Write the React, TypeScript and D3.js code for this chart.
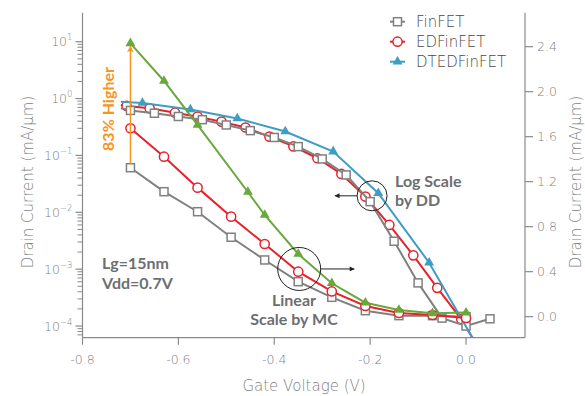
import React, { useEffect, useRef } from 'react'
import * as d3 from 'd3'

// Gate voltage (V), drain current (mA/um), marker flag (1 = draw marker)
// Drift-diffusion results, plotted on the left (log) axis
const finfetDD = [
  [-0.72, 0.676, 0], [-0.7, 0.618, 1], [-0.65, 0.552, 1], [-0.6, 0.484, 1], [-0.55, 0.425, 1],
  [-0.5, 0.343, 1], [-0.45, 0.273, 1], [-0.4, 0.207, 1], [-0.35, 0.143, 1], [-0.3, 0.0868, 1],
  [-0.25, 0.0454, 1], [-0.2, 0.0154, 1], [-0.15, 0.0031, 1], [-0.1, 5.74e-4, 1], [-0.05, 1.38e-4, 1],
  [0, 1.0e-4, 1], [0.05, 1.34e-4, 1]
]
const edfinfetDD = [
  [-0.72, 0.773, 0], [-0.708, 0.741, 1], [-0.66, 0.676, 1], [-0.607, 0.565, 1], [-0.56, 0.481, 1],
  [-0.51, 0.393, 1], [-0.46, 0.31, 1], [-0.41, 0.214, 1], [-0.36, 0.144, 1], [-0.31, 0.0893, 1],
  [-0.26, 0.0473, 1], [-0.21, 0.0189, 1], [-0.16, 0.006, 1], [-0.11, 0.00175, 1], [-0.06, 4.69e-4, 1],
  [-0.01, 1.32e-4, 1], [0.02, 5.0e-5, 0]
]
const dtedfinfetDD = [
  [-0.72, 0.88, 0], [-0.675, 0.838, 1], [-0.575, 0.643, 1], [-0.477, 0.447, 1], [-0.377, 0.264, 1],
  [-0.277, 0.117, 1], [-0.183, 0.0217, 1], [-0.077, 0.0013, 1], [0.02, 5.0e-5, 0]
]

// Monte Carlo results, plotted on the right (linear) axis
const finfetMC = [
  [-0.7, 1.324, 1], [-0.63, 1.111, 1], [-0.56, 0.933, 1], [-0.49, 0.706, 1], [-0.42, 0.504, 1],
  [-0.35, 0.311, 1], [-0.28, 0.172, 1], [-0.21, 0.053, 1], [-0.14, 0.009, 1], [-0.07, 0.009, 1],
  [0, 0.0, 1]
]
const edfinfetMC = [
  [-0.7, 1.675, 1], [-0.63, 1.422, 1], [-0.56, 1.147, 1], [-0.49, 0.889, 1], [-0.42, 0.646, 1],
  [-0.35, 0.4, 1], [-0.28, 0.224, 1], [-0.21, 0.095, 1], [-0.14, 0.033, 1], [-0.07, 0.015, 1],
  [0, -0.012, 1]
]
const dtedfinfetMC = [
  [-0.7, 2.43, 1], [-0.63, 2.095, 1], [-0.56, 1.704, 1], [-0.455, 1.108, 1], [-0.42, 0.904, 1],
  [-0.35, 0.557, 1], [-0.28, 0.297, 1], [-0.21, 0.124, 1], [-0.14, 0.06, 1], [-0.07, 0.03, 1],
  [0, 0.036, 1]
]

const xTicks = [-0.8, -0.6, -0.4, -0.2, 0.0]
const logTickExps = [1, 0, -1, -2, -3, -4]
const linTicks = [0.0, 0.4, 0.8, 1.2, 1.6, 2.0, 2.4]
const legendItems = ['FinFET', 'EDFinFET', 'DTEDFinFET']

const W = 585
const H = 396
const GRAY = '#808080'
const RED = '#e8222b'
const BLUE = '#3d9dc3'
const GREEN = '#69a83a'
const ORANGE = '#f7941d'
const AXIS = '#8a8a8a'
const TICK_TEXT = '#7f7f7f'
const NOTE = '#6d6e71'
const FONT = '"DejaVu Sans", sans-serif'
const BOLD_FONT = 'Lato, "Open Sans", sans-serif'

const App = () => {
  const svgRef = useRef(null)

  useEffect(() => {
    const svg = d3.select(svgRef.current)
    svg.selectAll('*').remove()

    const left = 82.5
    const right = 525
    const top = 12.7
    const bottom = 337.7

    const x = d3.scaleLinear().domain([-0.8, 0.123]).range([left, right])
    const yLog = d3.scaleLog().domain([Math.pow(10, -4.205), Math.pow(10, 1.51)]).range([bottom, top])
    const yLin = d3.scaleLinear().domain([-0.187, 2.702]).range([bottom, top])

    svg.append('defs').append('clipPath').attr('id', 'plot-clip')
      .append('rect')
      .attr('x', left).attr('y', top)
      .attr('width', right - left).attr('height', bottom - top)

    svg.append('defs').html(`
      <marker id="arr-o" viewBox="0 0 10 10" refX="9" refY="5" markerWidth="7" markerHeight="9" orient="auto" markerUnits="userSpaceOnUse">
        <path d="M0,0 L10,5 L0,10 L3,5 Z" fill="${ORANGE}"/>
      </marker>
      <marker id="arr-k" viewBox="0 0 10 10" refX="9" refY="5" markerWidth="6" markerHeight="5" orient="auto" markerUnits="userSpaceOnUse">
        <path d="M0,0 L10,5 L0,10 Z" fill="#222"/>
      </marker>`)

    // Axes lines
    svg.append('line').attr('x1', left).attr('x2', left).attr('y1', top).attr('y2', bottom)
      .attr('stroke', AXIS).attr('stroke-width', 1.2)
    svg.append('line').attr('x1', right).attr('x2', right).attr('y1', top).attr('y2', bottom)
      .attr('stroke', AXIS).attr('stroke-width', 1.2)
    svg.append('line').attr('x1', left).attr('x2', right).attr('y1', bottom).attr('y2', bottom)
      .attr('stroke', AXIS).attr('stroke-width', 1.2)

    // Bottom ticks
    xTicks.forEach(t => {
      svg.append('line').attr('x1', x(t)).attr('x2', x(t)).attr('y1', bottom).attr('y2', bottom + 7)
        .attr('stroke', AXIS).attr('stroke-width', 1.2)
      svg.append('text').attr('x', x(t)).attr('y', 364)
        .attr('text-anchor', 'middle')
        .style('font-family', FONT).style('font-weight', 300).style('font-size', '12.5px').style('fill', TICK_TEXT)
        .text(d3.format('.1f')(t).replace('−', '-'))
    })

    // Left log ticks: majors and minors
    const [lo] = yLog.domain()
    for (let e = -5; e <= 0; e++) {
      for (let k = 2; k <= 9; k++) {
        const v = k * Math.pow(10, e)
        if (v < lo || v > 10) continue
        svg.append('line').attr('x1', left - 5).attr('x2', left).attr('y1', yLog(v)).attr('y2', yLog(v))
          .attr('stroke', AXIS).attr('stroke-width', 1)
      }
    }
    logTickExps.forEach(e => {
      const v = Math.pow(10, e)
      svg.append('line').attr('x1', left - 7).attr('x2', left).attr('y1', yLog(v)).attr('y2', yLog(v))
        .attr('stroke', AXIS).attr('stroke-width', 1.2)
      const t = svg.append('text').attr('x', left - 10).attr('y', yLog(v) + 4.5)
        .attr('text-anchor', 'end')
        .style('font-family', FONT).style('font-weight', 300).style('font-size', '12.5px').style('fill', TICK_TEXT)
      t.append('tspan').text('10')
      t.append('tspan').attr('dy', -6).style('font-size', '8.5px').text(String(e).replace('-', '\u2212'))
    })

    // Right linear ticks
    linTicks.forEach(t => {
      svg.append('line').attr('x1', right).attr('x2', right + 8).attr('y1', yLin(t)).attr('y2', yLin(t))
        .attr('stroke', AXIS).attr('stroke-width', 1.2)
      svg.append('text').attr('x', right + 12).attr('y', yLin(t) + 4.5)
        .style('font-family', FONT).style('font-weight', 300).style('font-size', '12.5px').style('fill', TICK_TEXT)
        .text(d3.format('.1f')(t))
    })

    // Axis titles
    const axisTitle = (transform, txt) => svg.append('text').attr('transform', transform)
      .attr('text-anchor', 'middle')
      .style('font-family', FONT).style('font-weight', 300).style('font-size', '15px').style('fill', TICK_TEXT)
      .text(txt)
    axisTitle('translate(304,391)', 'Gate Voltage (V)')
    axisTitle('translate(33,182) rotate(-90)', 'Drain Current (mA/\u03bcm)')
    axisTitle('translate(581,182) rotate(-90)', 'Drain Current (mA/\u03bcm)')

    // Series
    const series = [
      { data: edfinfetDD, y: yLog, color: RED, shape: 'circle' },
      { data: finfetDD, y: yLog, color: GRAY, shape: 'square' },
      { data: dtedfinfetDD, y: yLog, color: BLUE, shape: 'triangle' },
      { data: finfetMC, y: yLin, color: GRAY, shape: 'square' },
      { data: edfinfetMC, y: yLin, color: RED, shape: 'circle' },
      { data: dtedfinfetMC, y: yLin, color: GREEN, shape: 'triangle' }
    ]

    const drawMarker = (g, shape, color, cx, cy) => {
      if (shape === 'square') {
        g.append('rect').attr('x', cx - 4).attr('y', cy - 4).attr('width', 8).attr('height', 8)
          .attr('fill', 'white').attr('stroke', color).attr('stroke-width', 1.5)
      } else if (shape === 'circle') {
        g.append('circle').attr('cx', cx).attr('cy', cy).attr('r', 4.6)
          .attr('fill', 'white').attr('stroke', color).attr('stroke-width', 1.5)
      } else {
        g.append('path').attr('d', d3.symbol(d3.symbolTriangle, 42)())
          .attr('transform', `translate(${cx},${cy})`)
          .attr('fill', color)
      }
    }

    series.forEach(s => {
      const line = d3.line().x(d => x(d[0])).y(d => s.y(d[1]))
      const g = svg.append('g')
      g.append('path').attr('d', line(s.data))
        .attr('clip-path', 'url(#plot-clip)')
        .attr('fill', 'none').attr('stroke', s.color).attr('stroke-width', 2)
      s.data.filter(d => d[2]).forEach(d => drawMarker(g, s.shape, s.color, x(d[0]), s.y(d[1])))
    })

    // Legend
    const legendColors = [GRAY, RED, BLUE]
    const legendShapes = ['square', 'circle', 'triangle']
    legendItems.forEach((name, i) => {
      const ly = 21.7 + i * 20
      const g = svg.append('g')
      g.append('line').attr('x1', 390).attr('x2', 405).attr('y1', ly).attr('y2', ly)
        .attr('stroke', legendColors[i]).attr('stroke-width', 2)
      drawMarker(g, legendShapes[i], legendColors[i], 397.5, ly)
      g.append('text').attr('x', 416).attr('y', ly + 5.5)
        .style('font-family', FONT).style('font-weight', 300).style('font-size', '15px').style('fill', '#4a4a4a')
        .text(name)
    })

    // "83% Higher" arrow
    svg.append('line')
      .attr('x1', x(-0.7)).attr('x2', x(-0.7))
      .attr('y1', yLin(finfetMC[0][1]) - 4).attr('y2', yLin(dtedfinfetMC[0][1]) + 3)
      .attr('stroke', ORANGE).attr('stroke-width', 1.5)
      .attr('marker-end', 'url(#arr-o)')
    svg.append('text').attr('transform', 'translate(114,109) rotate(-90)').attr('text-anchor', 'middle')
      .style('font-family', BOLD_FONT).style('font-size', '16px').style('font-weight', 'bold').style('fill', ORANGE)
      .text('83% Higher')

    // Device notes
    const note = (tx, ty, txt, anchor = 'start') => svg.append('text')
      .attr('x', tx).attr('y', ty).attr('text-anchor', anchor)
      .style('font-family', BOLD_FONT).style('font-size', '16px').style('font-weight', 'bold').style('fill', NOTE)
      .text(txt)
    note(102, 269, 'Lg=15nm')
    note(102, 289, 'Vdd=0.7V')
    note(395, 187, 'Log Scale')
    note(395, 206, 'by DD')
    note(294, 306, 'Linear', 'middle')
    note(294, 325, 'Scale by MC', 'middle')

    // Scale callouts
    const c1x = x(-0.196), c1y = yLog(Math.pow(10, -1.71))
    svg.append('circle').attr('cx', c1x).attr('cy', c1y).attr('r', 15)
      .attr('fill', 'none').attr('stroke', '#222').attr('stroke-width', 1)
    svg.append('line').attr('x1', c1x - 15).attr('x2', c1x - 37).attr('y1', c1y).attr('y2', c1y)
      .attr('stroke', '#222').attr('stroke-width', 1).attr('marker-end', 'url(#arr-k)')

    const c2x = x(-0.348), c2y = yLin(0.424)
    svg.append('circle').attr('cx', c2x).attr('cy', c2y).attr('r', 21.5)
      .attr('fill', 'none').attr('stroke', '#222').attr('stroke-width', 1)
    svg.append('line').attr('x1', c2x + 21.5).attr('x2', c2x + 55).attr('y1', c2y).attr('y2', c2y)
      .attr('stroke', '#222').attr('stroke-width', 1).attr('marker-end', 'url(#arr-k)')
  }, [])

  return (
    <svg
      ref={svgRef}
      width={W}
      height={H}
      style={{ position: 'absolute', left: 0, top: 0, background: 'white' }}
    />
  )
}

export default App
